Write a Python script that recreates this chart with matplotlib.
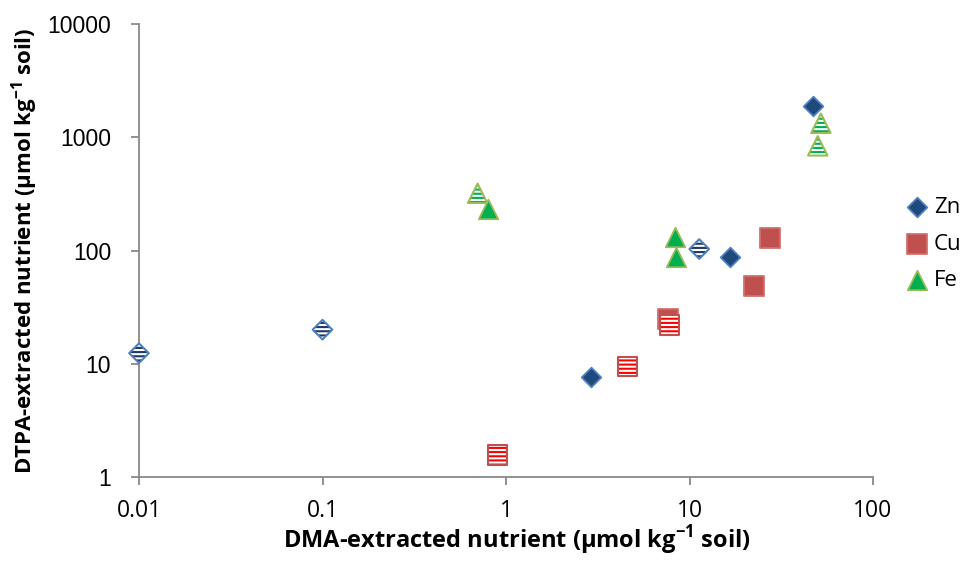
#!/usr/bin/env python3
"""DTPA vs DMA extracted nutrients (Zn, Cu, Fe), log-log scatter."""
import matplotlib
matplotlib.use("Agg")
import matplotlib.pyplot as plt
from matplotlib.ticker import FixedLocator, FixedFormatter, NullLocator

# values (µmol kg-1 soil)
zn_solid_x = [47, 16.6, 2.9]
zn_solid_y = [1900, 88, 7.6]
zn_hatch_x = [0.01, 0.1, 11.3]
zn_hatch_y = [12.4, 20, 103]

cu_solid_x = [27.5, 22.5, 7.6]
cu_solid_y = [130, 49, 25]
cu_hatch_x = [7.8, 4.6, 0.9]
cu_hatch_y = [22, 9.5, 1.57]

fe_solid_x = [8.3, 8.4, 0.8]
fe_solid_y = [132, 87, 232]
fe_hatch_x = [52, 50, 0.7]
fe_hatch_y = [1330, 840, 320]

x_ticks = [0.01, 0.1, 1, 10, 100]
x_labels = ["0.01", "0.1", "1", "10", "100"]
y_ticks = [1, 10, 100, 1000, 10000]
y_labels = ["1", "10", "100", "1000", "10000"]

plt.rcParams["hatch.linewidth"] = 1.5
plt.rcParams["mathtext.fontset"] = "custom"
plt.rcParams["mathtext.rm"] = "Open Sans"
plt.rcParams["mathtext.bf"] = "Open Sans:bold"

AXIS_GREY = "#898989"

fig = plt.figure(figsize=(9.63, 5.65), dpi=100)
ax = fig.add_axes([139 / 963, 1 - 477 / 565, (873 - 139) / 963, (477 - 24) / 565])
ax.set_xscale("log")
ax.set_yscale("log")
ax.set_xlim(0.01, 100)
ax.set_ylim(1, 10000)


def solid(x, y, marker, size, face, edge, z, label=None):
    return ax.scatter(x, y, s=size ** 2, marker=marker, facecolor=face,
                      edgecolor=edge, linewidth=1.3, zorder=z, clip_on=False,
                      label=label)


def striped(x, y, marker, size, stripe, edge, z):
    ax.scatter(x, y, s=size ** 2, marker=marker, facecolor="white",
               edgecolor=stripe, linewidth=0, hatch="----", zorder=z,
               clip_on=False)
    ax.scatter(x, y, s=size ** 2, marker=marker, facecolor="none",
               edgecolor=edge, linewidth=1.5, zorder=z + 0.1, clip_on=False)


h_zn = solid(zn_solid_x, zn_solid_y, "D", 10, "#1F497D", "#4F81BD", 3, "Zn")
striped(zn_hatch_x, zn_hatch_y, "D", 10, "#1F3864", "#4F81BD", 4)
h_cu = solid(cu_solid_x, cu_solid_y, "s", 14, "#C0504D", "#D0706D", 5, "Cu")
striped(cu_hatch_x, cu_hatch_y, "s", 14, "#FF0000", "#C0504D", 6)
striped(fe_hatch_x, fe_hatch_y, "^", 14, "#00B050", "#9BBB59", 7)
h_fe = solid(fe_solid_x, fe_solid_y, "^", 14, "#00B050", "#9BBB59", 8, "Fe")

for side in ("top", "right"):
    ax.spines[side].set_visible(False)
for side in ("left", "bottom"):
    ax.spines[side].set_color(AXIS_GREY)
    ax.spines[side].set_linewidth(1.3)

ax.xaxis.set_major_locator(FixedLocator(x_ticks))
ax.xaxis.set_major_formatter(FixedFormatter(x_labels))
ax.yaxis.set_major_locator(FixedLocator(y_ticks))
ax.yaxis.set_major_formatter(FixedFormatter(y_labels))
ax.xaxis.set_minor_locator(NullLocator())
ax.yaxis.set_minor_locator(NullLocator())
ax.tick_params(direction="out", length=6, width=1.3, color=AXIS_GREY)
ax.tick_params(axis="x", pad=10, labelsize=16.5)
ax.tick_params(axis="y", pad=14, labelsize=16.5)
for t in ax.get_xticklabels():
    t.set_fontfamily("Open Sans")
for t in ax.get_yticklabels():
    t.set_fontfamily("Liberation Sans")

fig.text(517 / 963, 1 - 540 / 565,
         r"DMA-extracted nutrient (µmol kg$^{\mathbf{-1}}$ soil)",
         ha="center", va="center", fontsize=17, fontweight="bold",
         family="Open Sans")
fig.text(25 / 963, 1 - 251 / 565,
         r"DTPA-extracted nutrient (µmol kg$^{\mathbf{-1}}$ soil)",
         ha="center", va="center", rotation=90, fontsize=16,
         fontweight="bold", family="Open Sans")

fig.legend(handles=[h_zn, h_cu, h_fe], loc="center left",
           bbox_to_anchor=(906 / 963, 1 - 244 / 565), frameon=False,
           prop={"family": "Open Sans", "size": 16}, handletextpad=0.25,
           labelspacing=0.7, handlelength=1.0, borderpad=0, borderaxespad=0,
           scatterpoints=1)

fig.savefig("out.png", dpi=100)
